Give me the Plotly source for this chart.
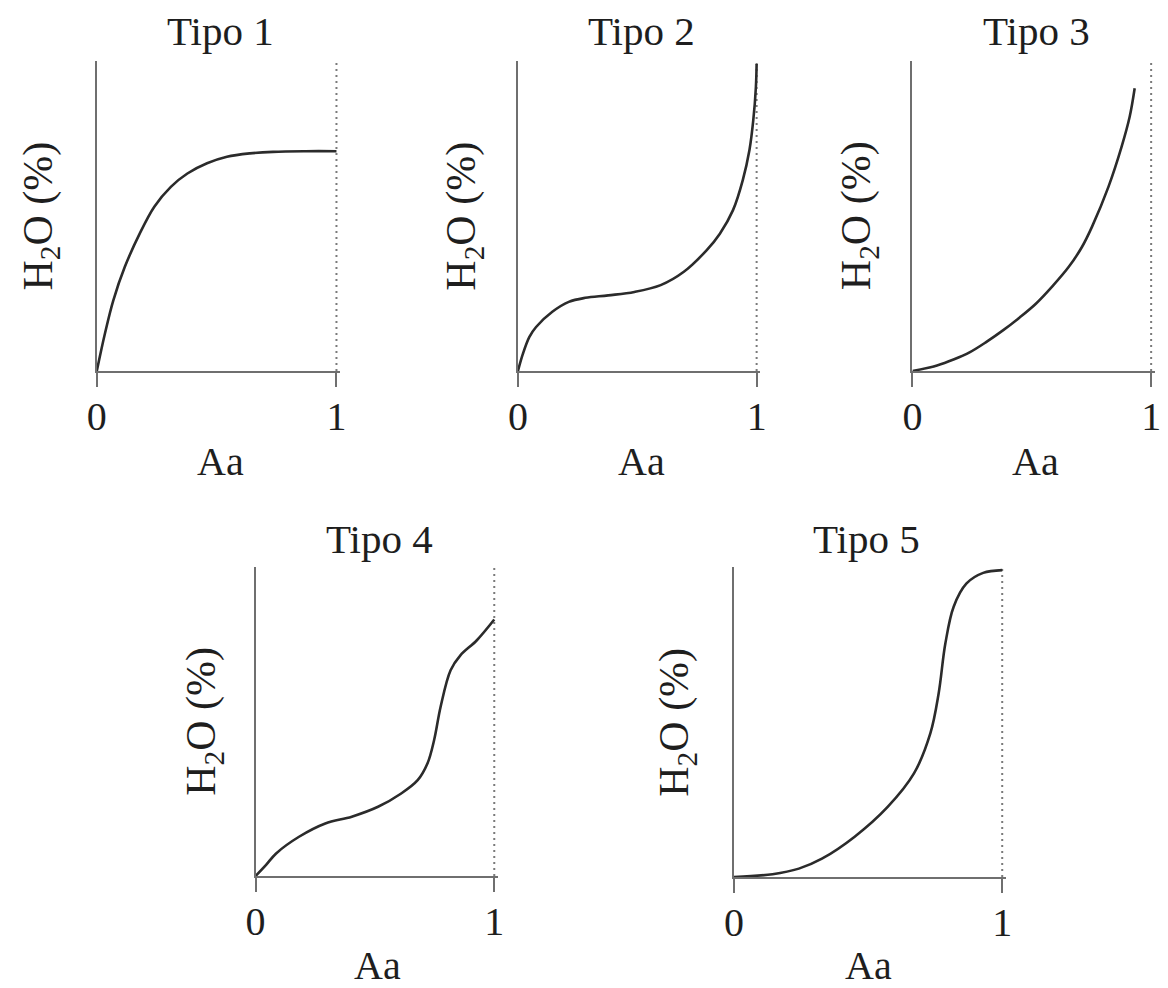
import plotly.graph_objects as go

W, H = 1168, 988

# ---------------- data ----------------
titles = ["Tipo 1", "Tipo 2", "Tipo 3", "Tipo 4", "Tipo 5"]
x_tick_vals = [0, 1]
x_tick_text = ["0", "1"]
x_label = "Aa"
y_label = "H<sub>2</sub>O (%)"
aw_limit = 1.0  # dotted reference line at Aa = 1

t1_x = [0.0, 0.034, 0.069, 0.117, 0.179, 0.240, 0.309, 0.378, 0.460, 0.543, 0.639, 0.735, 0.872, 1.0]
t1_y = [0.0, 0.121, 0.228, 0.336, 0.443, 0.530, 0.594, 0.637, 0.670, 0.691, 0.702, 0.707, 0.709, 0.709]

t2_x = [0.0, 0.021, 0.048, 0.076, 0.144, 0.213, 0.282, 0.378, 0.488, 0.598, 0.695, 0.791, 0.846, 0.901, 0.942, 0.970, 0.986, 0.997, 1.0]
t2_y = [0.0, 0.056, 0.110, 0.142, 0.191, 0.223, 0.236, 0.244, 0.255, 0.277, 0.320, 0.390, 0.443, 0.519, 0.616, 0.713, 0.809, 0.917, 0.99]

t3_x = [0.0, 0.103, 0.172, 0.241, 0.310, 0.379, 0.448, 0.517, 0.586, 0.655, 0.710, 0.752, 0.821, 0.876, 0.910, 0.931]
t3_y = [0.0, 0.018, 0.037, 0.061, 0.094, 0.131, 0.172, 0.217, 0.273, 0.336, 0.400, 0.465, 0.594, 0.723, 0.820, 0.912]

t4_x = [0.0, 0.044, 0.086, 0.182, 0.292, 0.403, 0.513, 0.610, 0.679, 0.720, 0.748, 0.775, 0.817, 0.858, 0.927, 1.0]
t4_y = [0.0, 0.036, 0.073, 0.127, 0.170, 0.192, 0.224, 0.267, 0.310, 0.364, 0.440, 0.547, 0.666, 0.714, 0.763, 0.830]

t5_x = [0.0, 0.144, 0.242, 0.328, 0.45, 0.573, 0.671, 0.732, 0.763, 0.788, 0.819, 0.867, 0.929, 1.0]
t5_y = [0.0, 0.009, 0.027, 0.059, 0.13, 0.226, 0.334, 0.463, 0.592, 0.753, 0.872, 0.947, 0.981, 0.99]

series_x = [t1_x, t2_x, t3_x, t4_x, t5_x]
series_y = [t1_y, t2_y, t3_y, t4_y, t5_y]

# ---------------- layout (pixel boxes: left, x=1 pos, top, bottom) ----------------
boxes = [
    (88, 331, 61, 371),
    (515, 757, 61, 371),
    (915, 1157, 61, 371),
    (249, 491, 567, 876),
    (734, 1006, 567, 877),
]
title_pos = [(213, 31), (640, 31), (1041, 31), (375, 539), (868, 539)]
xlabel_pos = [(213, 461), (640, 461), (1040, 461), (373, 965), (870, 965)]
ylabel_x = [31, 460, 861, 196, 676]

XMAX = 1.015
FONT = "Liberation Serif"
TXT = "#1e1e1e"
AXC = "#6f6f6f"
CURVE = "#2b2b2b"

fig = go.Figure()
layout = dict(
    width=W, height=H,
    margin=dict(l=0, r=0, t=0, b=0),
    paper_bgcolor="white", plot_bgcolor="white",
    showlegend=False,
    annotations=[],
)

for i in range(5):
    left, one, top, bottom = boxes[i]
    sfx = "" if i == 0 else str(i + 1)
    xr = left + (one - left) * XMAX
    layout["xaxis" + sfx] = dict(
        domain=[left / W, xr / W], range=[0, XMAX],
        anchor="y" + sfx,
        showline=True, linecolor=AXC, linewidth=2,
        showgrid=False, zeroline=False,
        tickmode="array", tickvals=x_tick_vals, ticktext=x_tick_text,
        ticks="outside", ticklen=14, tickwidth=2, tickcolor=AXC,
        ticklabelstandoff=-5,
        tickfont=dict(family=FONT, size=40, color=TXT),
        fixedrange=True,
    )
    layout["yaxis" + sfx] = dict(
        domain=[1 - bottom / H, 1 - top / H], range=[0, 1],
        anchor="x" + sfx,
        showline=True, linecolor=AXC, linewidth=2,
        showgrid=False, zeroline=False,
        showticklabels=False, ticks="",
        fixedrange=True,
    )
    # dotted reference line at Aa = 1
    fig.add_trace(go.Scatter(
        x=[aw_limit, aw_limit], y=[0, 1], mode="lines",
        line=dict(color="#7a7a7a", width=2, dash="2px,4px"),
        xaxis="x" + sfx, yaxis="y" + sfx, hoverinfo="skip",
    ))
    fig.add_trace(go.Scatter(
        x=series_x[i], y=series_y[i], mode="lines",
        line=dict(color=CURVE, width=2.6, shape="spline", smoothing=1.0),
        xaxis="x" + sfx, yaxis="y" + sfx,
    ))
    tx, ty = title_pos[i]
    layout["annotations"].append(dict(
        text=titles[i], x=tx / W, y=1 - ty / H, xref="paper", yref="paper",
        xanchor="center", yanchor="middle", showarrow=False,
        font=dict(family=FONT, size=41, color=TXT),
    ))
    ax_, ay_ = xlabel_pos[i]
    layout["annotations"].append(dict(
        text=x_label, x=ax_ / W, y=1 - ay_ / H, xref="paper", yref="paper",
        xanchor="center", yanchor="middle", showarrow=False,
        font=dict(family=FONT, size=40, color=TXT),
    ))
    layout["annotations"].append(dict(
        text=y_label, x=ylabel_x[i] / W, y=1 - ((top + bottom) / 2) / H,
        xref="paper", yref="paper", textangle=-90,
        xanchor="center", yanchor="middle", showarrow=False,
        font=dict(family=FONT, size=42, color=TXT),
    ))

fig.update_layout(**layout)
fig.write_html(
    "out.html",
    config={"displayModeBar": False},
    post_script="document.body.style.margin='0';document.body.style.overflow='hidden';",
)
